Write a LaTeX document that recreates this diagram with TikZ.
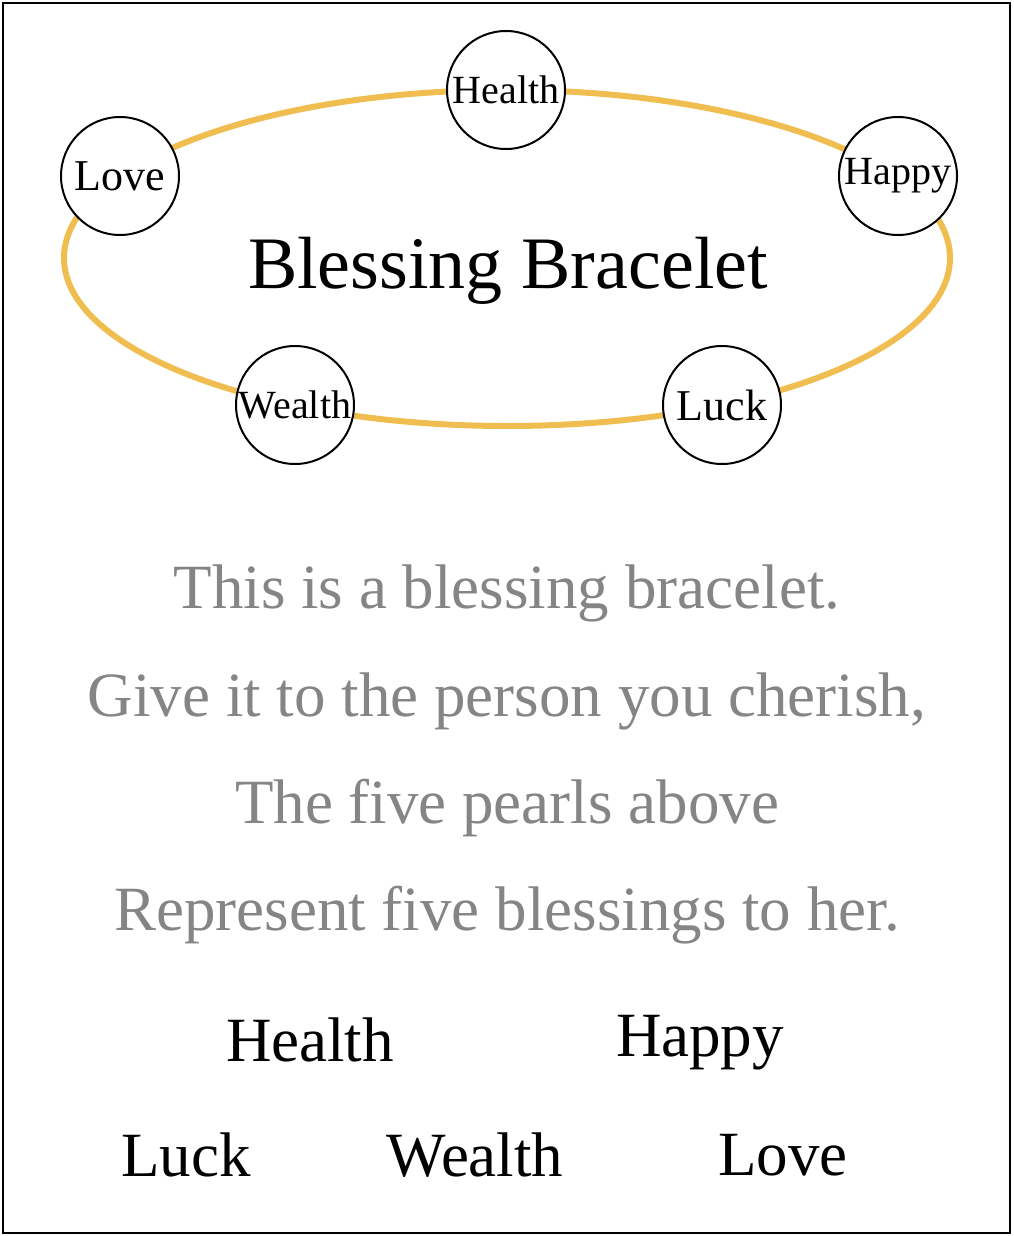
\documentclass[tikz,border=0pt]{standalone}
\usepackage{fontspec}
\setmainfont{Liberation Serif}
\definecolor{gold}{HTML}{F0BE50}
\definecolor{greytxt}{HTML}{858585}
\begin{document}
\begin{tikzpicture}[x=1pt,y=-1pt,
  pearl/.style={circle,draw=black,line width=2pt,fill=white,minimum size=118pt,inner sep=0pt,font=\fontsize{40}{44}\selectfont},
  poem/.style={text=greytxt,font=\fontsize{63}{70}\selectfont},
  word/.style={font=\fontsize{63}{70}\selectfont}]
\useasboundingbox (0,0) rectangle (1013,1236);
\draw[line width=2.5pt] (3,3) rectangle (1010,1233);
\draw[gold,line width=6pt] (507,258) ellipse [x radius=443, y radius=168];
\node[pearl] (health) at (506,90) {Health};
\node[pearl,font=\fontsize{44}{48}\selectfont] (love) at (120,176) {Love};
\node[pearl] (happy) at (898,176) {Happy};
\node[pearl] (wealth) at (295,405) {Wealth};
\node[pearl,font=\fontsize{44}{48}\selectfont] (luck) at (722,405) {Luck};
\node[font=\fontsize{74}{80}\selectfont] (title) at (508,271) {Blessing Bracelet};
\node[poem] (l1) at (507,593) {This is a blessing bracelet.};
\node[poem] (l2) at (507,701) {Give it to the person you cherish,};
\node[poem] (l3) at (507,808) {The five pearls above};
\node[poem] (l4) at (507,915) {Represent five blessings to her.};
\node[word] (w1) at (310,1040) {Health};
\node[word] (w2) at (700,1043) {Happy};
\node[word] (w3) at (186,1155) {Luck};
\node[word] (w4) at (475,1155) {Wealth};
\node[word] (w5) at (783,1155) {Love};
\end{tikzpicture}
\end{document}
